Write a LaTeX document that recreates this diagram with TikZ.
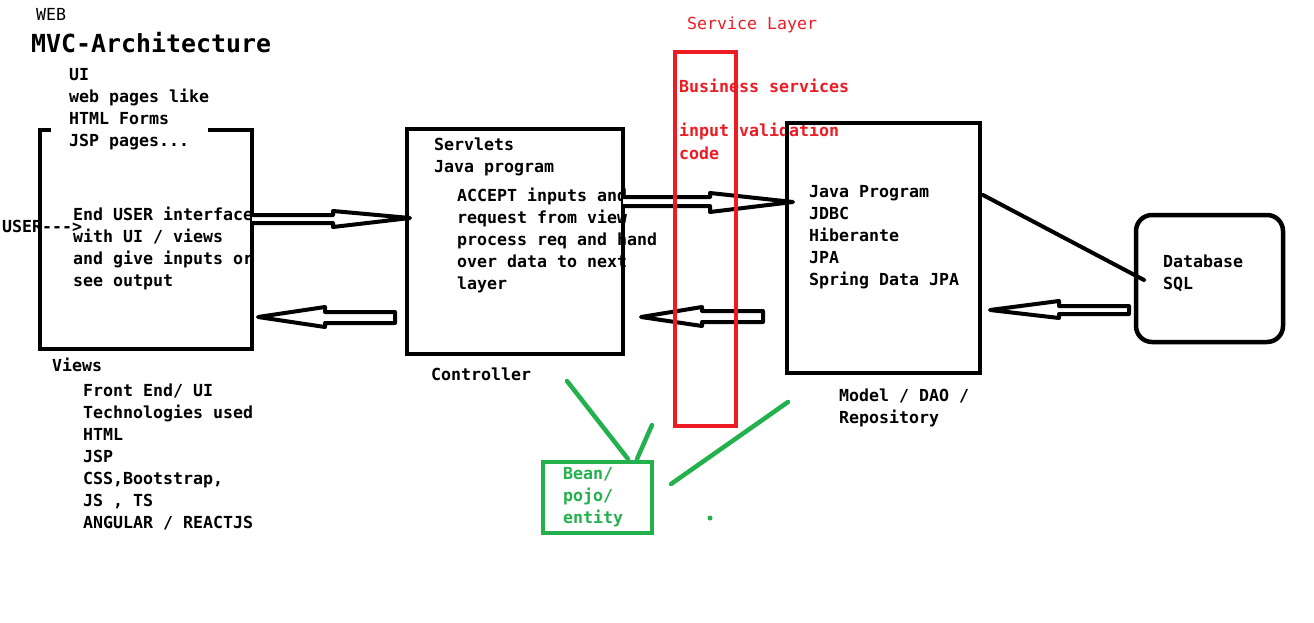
\documentclass[tikz,border=0pt]{standalone}
\usepackage{fontspec}
\setmonofont{DejaVu Sans Mono}
\definecolor{pred}{RGB}{237,28,36}
\definecolor{pgreen}{RGB}{34,177,76}
\newcommand\mlines[1]{\vtop{\baselineskip=22pt\lineskiplimit=-30pt\lineskip=0pt\halign{##\hfil\cr#1\crcr}}}
\tikzset{
  txt/.style={anchor=base west, inner sep=0pt, font=\ttfamily\bfseries\fontsize{16.6pt}{22pt}\selectfont},
  txtreg/.style={anchor=base west, inner sep=0pt, font=\ttfamily\fontsize{16.6pt}{22pt}\selectfont},
  bigtxt/.style={anchor=base west, inner sep=0pt, font=\ttfamily\bfseries\fontsize{24.9pt}{30pt}\selectfont},
  box/.style={draw=black, line width=4.5pt, inner sep=0pt},
  hollow/.style={draw=black, fill=white, line width=4pt, line join=round},
  gline/.style={draw=pgreen, line width=4.5pt, line cap=round},
}
\begin{document}
\begin{tikzpicture}[x=1pt,y=-1pt]
\useasboundingbox[fill=white] (0,0) rectangle (1314,623);

% ---------- texts ----------
\node[txtreg] (web) at (36,21) {WEB};
\node[bigtxt] (title) at (31,53) {MVC-Architecture};
\node[txt] (ui) at (69,81) {\mlines{UI\cr web pages like\cr HTML Forms\cr JSP pages...}};
\node[txt] (enduser) at (73,220) {\mlines{End USER interface\cr with UI / views\cr and give inputs or\cr see output}};
\node[txt] (user) at (2,232) {USER--->};
\node[txt] (views) at (52,371) {Views};
\node[txt] (front) at (83,396) {\mlines{Front End/ UI\cr Technologies used\cr HTML\cr JSP\cr CSS,Bootstrap,\cr JS , TS\cr ANGULAR / REACTJS}};

\node[txt] (servlets) at (434,150) {\mlines{Servlets\cr Java program}};
\node[txt] (accept) at (457,201) {\mlines{ACCEPT inputs and\cr request from view\cr process req and hand\cr over data to next\cr layer}};
\node[txt] (ctrllabel) at (431,380) {Controller};

\node[txt] (javaprog) at (809,197) {\mlines{Java Program\cr JDBC\cr Hiberante\cr JPA\cr Spring Data JPA}};
\node[txt] (modellabel) at (839,401) {\mlines{Model / DAO /\cr Repository}};

\node[txt] (dbtext) at (1163,267) {\mlines{Database\cr SQL}};

\node[txtreg, text=pred] (service) at (687,30) {Service Layer};
\node[txt, text=pred] (business) at (679,93) {Business services};
\node[txt, text=pred] (validation) at (679,137) {\mlines{input validation\cr code}};

\node[txt, text=pgreen] (beantext) at (563,479) {\mlines{Bean/\cr pojo/\cr entity}};

% ---------- boxes ----------
\coordinate (vtl) at (40,130);
\coordinate (vbr) at (252,349);
\draw[line width=4.5pt, line join=miter] (51,130) -- (vtl) -- (vtl |- vbr) -- (vbr) -- (vbr |- vtl) -- (208,130);
\node[box, minimum width=216pt, minimum height=225pt] (ctrl) at (515,241.5) {};
\node[box, minimum width=193pt, minimum height=250pt] (model) at (883.5,248) {};
\node[box, rounded corners=16pt, minimum width=147pt, minimum height=127pt] (db) at (1209.5,278.5) {};

% ---------- block arrows ----------
\draw[hollow] (252,215) -- (333,215) -- (333,211) -- (410,218) -- (333,227) -- (333,223) -- (252,223);
\draw[hollow] (258,317) -- (325,307) -- (325,312) -- (395,312) -- (395,323) -- (325,323) -- (325,327) -- cycle;
\draw[hollow] (623,197) -- (710,197) -- (710,193) -- (793,202) -- (710,212) -- (710,206) -- (623,206);
\draw[hollow] (641,317) -- (702,307) -- (702,311) -- (763,311) -- (763,322) -- (702,322) -- (702,326) -- cycle;
\draw[hollow] (990,310) -- (1059,301) -- (1059,306) -- (1129,306) -- (1129,314) -- (1059,314) -- (1059,318) -- cycle;

% model -- database line
\coordinate (mdA) at (983,195);
\coordinate (mdB) at (1144,280);
\draw[line width=4pt, line cap=round] (mdA) -- (mdB);

% ---------- green part ----------
\node[box, draw=pgreen, minimum width=109pt, minimum height=71pt] (bean) at (597.5,497.5) {};
\coordinate (g1) at (567,381);
\coordinate (g2) at (652,425);
\coordinate (g3) at (788,402);
\coordinate (g4) at (671,484);
\draw[gline] (g1) -- (628,459);
\draw[gline] (g2) -- (637,459);
\draw[gline] (g4) -- (g3);
\fill[pgreen] (710,518) circle (2.5pt);

% ---------- service layer ----------
\node[box, draw=pred, minimum width=61pt, minimum height=374pt] (svc) at (705.5,239) {};
\end{tikzpicture}
\end{document}
